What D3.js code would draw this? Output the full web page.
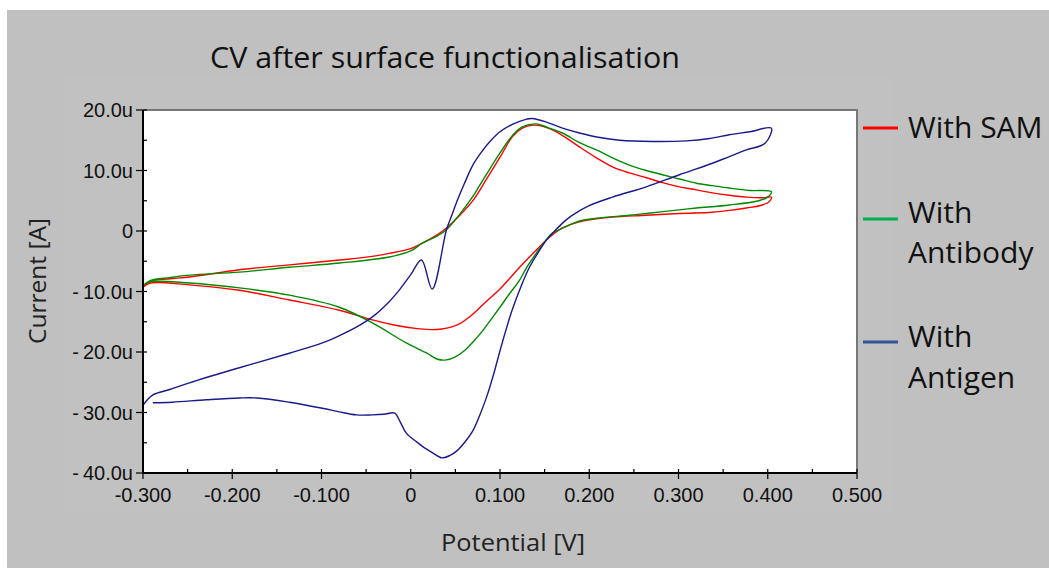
<!DOCTYPE html>
<html>
<head>
<meta charset="utf-8">
<script src="https://cdn.jsdelivr.net/npm/d3@7"></script>
<style>
  body { margin: 0; background: #fff; }
  svg { display: block; }
</style>
</head>
<body>
<script>
// potentials [V] and currents [uA], in scan order
const samV = [-0.300,-0.292,-0.270,-0.248,-0.192,-0.136,-0.080,-0.043,-0.024,0.000,0.013,0.030,0.040,0.055,0.070,0.085,0.100,0.114,0.125,0.137,0.148,0.159,0.175,0.189,0.208,0.226,0.245,0.264,0.282,0.301,0.320,0.338,0.357,0.376,0.395,0.404,
  0.402,0.394,0.376,0.357,0.338,0.301,0.264,0.226,0.208,0.189,0.178,0.170,0.160,0.152,0.143,0.133,0.122,0.114,0.100,0.085,0.075,0.065,0.055,0.045,0.035,0.022,0.005,-0.020,-0.043,-0.080,-0.136,-0.192,-0.248,-0.292,-0.300];
const samI = [-9.3,-8.3,-7.9,-7.6,-6.4,-5.6,-4.8,-4.2,-3.7,-2.9,-2.0,-0.6,0.5,2.6,5.1,8.6,12.2,15.6,17.0,17.5,17.3,16.7,15.3,13.9,12.1,10.6,9.6,8.8,8.0,7.3,6.8,6.3,5.9,5.6,5.5,5.6,
  4.9,4.3,3.8,3.4,3.1,2.9,2.6,2.3,2.0,1.5,1.0,0.5,-0.5,-1.5,-2.8,-4.3,-6.0,-7.3,-9.6,-11.6,-13.0,-14.3,-15.3,-15.9,-16.2,-16.3,-16.1,-15.5,-14.7,-13.1,-11.4,-9.8,-8.9,-8.6,-9.3];

const abV = [-0.300,-0.292,-0.270,-0.248,-0.192,-0.136,-0.080,-0.024,0.000,0.013,0.030,0.040,0.055,0.070,0.077,0.085,0.100,0.114,0.125,0.141,0.155,0.170,0.189,0.208,0.226,0.245,0.264,0.282,0.301,0.320,0.338,0.357,0.380,0.404,
  0.400,0.390,0.357,0.320,0.301,0.264,0.245,0.208,0.190,0.178,0.165,0.159,0.150,0.141,0.130,0.122,0.110,0.100,0.090,0.080,0.070,0.060,0.050,0.040,0.030,0.018,-0.005,-0.043,-0.080,-0.136,-0.192,-0.248,-0.292,-0.300];
const abI = [-9.0,-8.2,-7.7,-7.3,-6.8,-6.0,-5.3,-4.3,-3.3,-2.0,-0.8,0.2,2.8,5.8,7.5,9.4,12.9,15.8,17.2,17.7,17.0,16.2,14.6,13.4,12.1,10.9,10.0,9.3,8.6,7.9,7.5,7.1,6.7,6.5,
  5.6,5.0,4.3,3.8,3.5,2.9,2.6,2.1,1.7,1.0,0.1,-0.3,-1.8,-3.6,-6.0,-8.1,-10.5,-12.6,-14.6,-16.6,-18.3,-19.8,-20.8,-21.3,-21.2,-20.2,-18.5,-15.2,-12.6,-10.6,-9.4,-8.6,-8.4,-9.0];

const agV = [-0.300,-0.289,-0.270,-0.248,-0.192,-0.136,-0.099,-0.080,-0.061,-0.043,-0.025,-0.012,0.000,0.012,0.024,0.040,0.046,0.052,0.060,0.070,0.080,0.090,0.100,0.115,0.130,0.136,0.152,0.170,0.189,0.210,0.234,0.271,0.309,0.335,0.357,0.380,0.404,
  0.397,0.376,0.357,0.338,0.301,0.264,0.226,0.197,0.180,0.170,0.160,0.152,0.143,0.133,0.124,0.114,0.107,0.100,0.093,0.086,0.078,0.070,0.060,0.052,0.044,0.035,0.025,0.015,0.007,-0.005,-0.012,-0.018,-0.030,-0.043,-0.061,-0.080,-0.099,-0.136,-0.172,-0.192,-0.229,-0.267,-0.289];
const agI = [-28.8,-27.1,-26.2,-25.1,-22.6,-20.2,-18.5,-17.3,-15.9,-14.2,-11.8,-9.6,-7.2,-4.8,-9.6,0.2,2.6,5.0,7.8,11.0,13.2,15.0,16.4,17.7,18.5,18.6,18.0,17.0,16.2,15.5,15.0,14.8,14.9,15.3,15.9,16.4,17.0,
  14.5,13.4,12.3,11.2,9.3,7.3,5.6,4.0,2.5,1.3,-0.2,-1.5,-3.5,-6.0,-9.0,-12.9,-16.2,-19.8,-23.6,-27.0,-30.2,-32.9,-35.0,-36.3,-37.1,-37.5,-36.7,-35.8,-34.9,-33.4,-31.5,-30.1,-30.3,-30.4,-30.4,-29.9,-29.3,-28.3,-27.6,-27.6,-27.9,-28.3,-28.4];

const seriesNames = ["With SAM", "With Antibody", "With Antigen"];
const lineColors = ["#ff0000", "#008a00", "#1a1a8c"];
const legendColors = ["#ff0000", "#00b050", "#2f5597"];
const xTicks = [-0.3,-0.2,-0.1,0,0.1,0.2,0.3,0.4,0.5];
const xTickLabels = ["-0.300","-0.200","-0.100","0","0.100","0.200","0.300","0.400","0.500"];
const yTicks = [20,10,0,-10,-20,-30,-40];
const yTickLabels = ["20.0u","10.0u","0","-10.0u","-20.0u","-30.0u","-40.0u"];

const W = 1049, H = 568;
const svg = d3.select("body").append("svg").attr("width", W).attr("height", H);

svg.append("rect").attr("x", 7).attr("y", 10).attr("width", W - 7).attr("height", H - 10).attr("fill", "#c0c0c0");
svg.append("rect").attr("x", 62).attr("y", 77).attr("width", 831).attr("height", 435).attr("fill", "#c1c1c1");

const pL = 143, pR = 857, pT = 110, pB = 473;
const x = d3.scaleLinear().domain([-0.3, 0.5]).range([pL, pR]);
const y = d3.scaleLinear().domain([-40, 20]).range([pB, pT]);

svg.append("rect").attr("x", pL).attr("y", pT).attr("width", pR - pL).attr("height", pB - pT).attr("fill", "#fff");
// top and right frame
svg.append("path").attr("d", `M${pL},${pT}H${pR}V${pB}`)
    .attr("fill", "none").attr("stroke", "#777").attr("stroke-width", 2);

const mono = "'Liberation Sans', Arial, sans-serif";
const body = "'Open Sans', sans-serif";

// curves
const data = [[samV, samI], [abV, abI], [agV, agI]];
const line = d3.line().x(d => x(d[0])).y(d => y(d[1])).curve(d3.curveCatmullRom.alpha(0.5));
const plot = svg.append("g");
data.forEach(([vs, is], k) => {
  plot.append("path")
      .datum(vs.map((v, i) => [v, is[i]]))
      .attr("d", line)
      .attr("fill", "none")
      .attr("stroke", lineColors[k])
      .attr("stroke-width", 1.4)
      .attr("stroke-linejoin", "round");
});

// x axis
const xAxis = svg.append("g");
xAxis.append("line").attr("x1", pL).attr("x2", pR).attr("y1", pB).attr("y2", pB)
    .attr("stroke", "#000").attr("stroke-width", 2);
d3.range(-0.3, 0.5001, 0.05).forEach((t, i) => {
  const major = i % 2 === 0;
  xAxis.append("line").attr("x1", x(t)).attr("x2", x(t))
      .attr("y1", pB - 4).attr("y2", major ? pB + 6 : pB)
      .attr("stroke", "#000").attr("stroke-width", 1.2);
});
xAxis.selectAll("text.xt").data(xTicks).join("text")
    .attr("x", d => x(d)).attr("y", 502)
    .attr("text-anchor", "middle")
    .attr("font-family", mono).attr("font-size", 20).attr("fill", "#111")
    .text((d, i) => xTickLabels[i]);

// y axis
const yAxis = svg.append("g");
yAxis.append("line").attr("x1", pL).attr("x2", pL).attr("y1", pT).attr("y2", pB)
    .attr("stroke", "#000").attr("stroke-width", 2);
d3.range(-40, 20.001, 5).forEach((t, i) => {
  const major = i % 2 === 0;
  yAxis.append("line").attr("x1", major ? pL - 7 : pL).attr("x2", pL + 4)
      .attr("y1", y(t)).attr("y2", y(t))
      .attr("stroke", "#000").attr("stroke-width", 1.2);
});
yTicks.forEach((t, i) => {
  const lab = yTickLabels[i];
  const txt = yAxis.append("text")
      .attr("x", 133).attr("y", y(t) + 7)
      .attr("text-anchor", "end")
      .attr("font-family", mono).attr("font-size", 20).attr("fill", "#111");
  if (lab.startsWith("-")) {
    txt.append("tspan").text("-");
    txt.append("tspan").attr("dx", 4).text(lab.slice(1));
  } else {
    txt.text(lab);
  }
});

// title and axis titles
svg.append("text").attr("x", 445).attr("y", 68)
    .attr("text-anchor", "middle").attr("font-family", body).attr("font-size", 30)
    .attr("textLength", 470).attr("lengthAdjust", "spacingAndGlyphs").attr("fill", "#111")
    .text("CV after surface functionalisation");
svg.append("text").attr("x", 513).attr("y", 551)
    .attr("text-anchor", "middle").attr("font-family", body).attr("font-size", 23)
    .attr("textLength", 144).attr("lengthAdjust", "spacingAndGlyphs").attr("fill", "#222")
    .text("Potential [V]");
svg.append("text").attr("transform", "translate(46,281) rotate(-90)")
    .attr("text-anchor", "middle").attr("font-family", body).attr("font-size", 23)
    .attr("textLength", 126).attr("lengthAdjust", "spacingAndGlyphs").attr("fill", "#222")
    .text("Current [A]");

// legend
const legendRows = [["With SAM"], ["With", "Antibody"], ["With", "Antigen"]];
const legendTextY = [[138], [223, 263], [347, 388]];
const legendLineY = [128, 219, 342];
const legend = svg.append("g");
seriesNames.forEach((name, k) => {
  legend.append("line").attr("x1", 863).attr("x2", 898)
      .attr("y1", legendLineY[k]).attr("y2", legendLineY[k])
      .attr("stroke", legendColors[k]).attr("stroke-width", 3);
  const txt = legend.append("text").attr("font-family", body).attr("font-size", 30).attr("fill", "#111");
  legendRows[k].forEach((r, j) => txt.append("tspan").attr("x", 908).attr("y", legendTextY[k][j])
      .text(j < legendRows[k].length - 1 ? r + " " : r));
});
</script>
</body>
</html>
